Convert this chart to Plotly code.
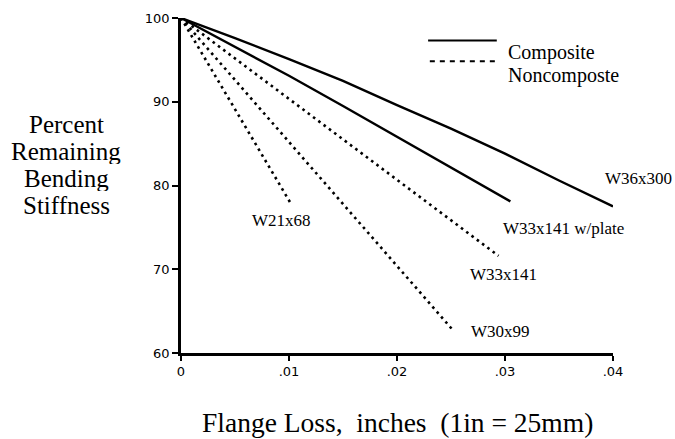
import plotly.graph_objects as go

# Flange loss (inches) vs percent remaining bending stiffness
w36x300_x = [0, 0.005, 0.01, 0.015, 0.02, 0.025, 0.03, 0.035, 0.04]
w36x300_y = [100, 97.6, 95.1, 92.5, 89.6, 86.8, 83.8, 80.6, 77.5]

w33p_x = [0, 0.005, 0.01, 0.015, 0.02, 0.025, 0.0305]
w33p_y = [100, 96.6, 93.1, 89.5, 85.8, 82.2, 78.1]

w21x68_x = [0, 0.0101]
w21x68_y = [100, 78.0]

w30x99_x = [0, 0.0252]
w30x99_y = [100, 62.7]

w33x141_x = [0, 0.0294]
w33x141_y = [100, 71.6]

x_range = [0, 0.04]
x_ticks = [0, 0.01, 0.02, 0.03, 0.04]
x_tick_text = ["0", ".01", ".02", ".03", ".04"]
y_ticks = [60, 70, 80, 90, 100]

# section labels: (text, x, y)
labels = [
    ("W36x300", 0.0424, 80.8),
    ("W33x141 w/plate", 0.03546, 74.85),
    ("W33x141", 0.0299, 69.4),
    ("W30x99", 0.02954, 62.6),
    ("W21x68", 0.00935, 75.8),
]

y_title_lines = ["Percent", "Remaining", "Bending", "Stiffness"]

solid = dict(color="black", width=2.4)
dotted = dict(color="black", width=2.6, dash="2.6px,4px")

fig = go.Figure()
for xs, ys in [(w36x300_x, w36x300_y), (w33p_x, w33p_y)]:
    fig.add_trace(go.Scatter(x=xs, y=ys, mode="lines", line=solid,
                             showlegend=False, cliponaxis=False))
for xs, ys in [(w21x68_x, w21x68_y), (w30x99_x, w30x99_y), (w33x141_x, w33x141_y)]:
    fig.add_trace(go.Scatter(x=xs, y=ys, mode="lines", line=dotted,
                             showlegend=False, cliponaxis=False))

serif = "Liberation Serif"
span = x_range[1] - x_range[0]
for text, lx, ly in labels:
    # place via x-domain fraction so labels past the axis end still show
    fig.add_annotation(xref="x domain", x=(lx - x_range[0]) / span, yref="y", y=ly,
                       xanchor="center", yanchor="middle",
                       text=text, showarrow=False,
                       font=dict(family=serif, size=17, color="black"))

# legend
fig.add_shape(type="line", xref="paper", yref="paper", x0=0.572, x1=0.731, y0=0.933, y1=0.933,
              line=dict(color="black", width=2))
fig.add_shape(type="line", xref="paper", yref="paper", x0=0.576, x1=0.727, y0=0.871, y1=0.871,
              line=dict(color="black", width=2, dash="5px,5px"))
fig.add_annotation(xref="paper", yref="paper", x=0.752, y=0.936, text="Composite", showarrow=False,
                   xanchor="left", font=dict(family=serif, size=20, color="black"))
fig.add_annotation(xref="paper", yref="paper", x=0.752, y=0.868, text="Noncomposte", showarrow=False,
                   xanchor="left", font=dict(family=serif, size=20, color="black"))

# axis titles
nb = "\u00a0"
fig.add_annotation(xref="paper", yref="paper", x=0.5, y=-0.208, yanchor="middle",
                   text=f"Flange Loss,{nb} inches{nb} (1in = 25mm)", showarrow=False,
                   font=dict(family=serif, size=27.5, color="black"))
for i, line in enumerate(y_title_lines):
    fig.add_annotation(xref="paper", yref="paper", x=-0.266, y=0.684 - i * 0.0805,
                       xanchor="center", yanchor="middle", text=line, showarrow=False,
                       height=26, borderpad=0,
                       font=dict(family=serif, size=25, color="black"))

tick_font = dict(family="DejaVu Sans", size=13, color="black")
fig.update_xaxes(range=x_range, tickvals=x_ticks, ticktext=x_tick_text,
                 showgrid=False, zeroline=False, showline=True, linecolor="black", linewidth=2.5,
                 ticks="outside", ticklen=5, tickwidth=2, tickcolor="black", tickfont=tick_font)
fig.update_yaxes(range=[60, 100], tickvals=y_ticks,
                 showgrid=False, zeroline=False, showline=True, linecolor="black", linewidth=2.5,
                 ticks="outside", ticklen=6, tickwidth=2, tickcolor="black", tickfont=tick_font)

fig.update_layout(width=675, height=439, margin=dict(l=181, r=62, t=11, b=86),
                  plot_bgcolor="white", paper_bgcolor="white", showlegend=False)

fig.write_html("out.html")
